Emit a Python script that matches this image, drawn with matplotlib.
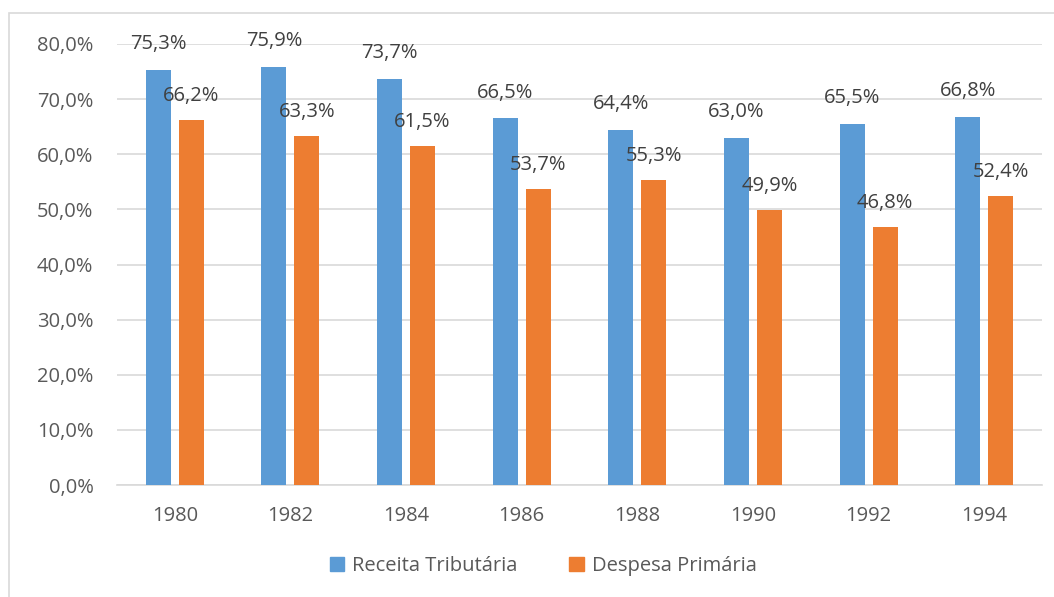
import numpy as np
import matplotlib.pyplot as plt
from matplotlib.patches import Patch, Rectangle

plt.rcParams['font.family'] = ['Open Sans', 'DejaVu Sans']

years = ['1980', '1982', '1984', '1986', '1988', '1990', '1992', '1994']
receita = [75.3, 75.9, 73.7, 66.5, 64.4, 63.0, 65.5, 66.8]
despesa = [66.2, 63.3, 61.5, 53.7, 55.3, 49.9, 46.8, 52.4]

blue = '#5B9BD5'
orange = '#ED7D31'
txt = '#595959'
grid = '#D9D9D9'
fs = 14.5

W, H = 1054, 597
fig = plt.figure(figsize=(W / 100, H / 100), dpi=100)
ax = fig.add_axes([117 / W, 1 - 485 / H, (1042 - 117) / W, (485 - 44) / H])

# chart border (goes off the right/bottom edge)
fig.patches.append(Rectangle((9 / W, -0.1), 1.2, 1 - 13 / H + 0.1, transform=fig.transFigure,
                             fill=False, edgecolor=grid, linewidth=1.2))

x = np.arange(len(years))
bw = 0.216
off = 0.143
ax.bar(x - off, receita, bw, color=blue, zorder=3)
ax.bar(x + off, despesa, bw, color=orange, zorder=3)

def fmt(v):
    return f'{v:.1f}%'.replace('.', ',')

for xi, v in zip(x, receita):
    ax.annotate(fmt(v), (xi - off, v), xytext=(0, 18.5), textcoords='offset points',
                ha='center', va='center', fontsize=fs, color='#404040')
for xi, v in zip(x, despesa):
    ax.annotate(fmt(v), (xi + off, v), xytext=(0, 17.5), textcoords='offset points',
                ha='center', va='center', fontsize=fs, color='#404040')

ax.set_xlim(-0.5, len(years) - 0.5)
ax.set_ylim(0, 80)
ax.set_yticks(np.arange(0, 81, 10))
ax.set_yticklabels([fmt(v) for v in np.arange(0, 81, 10)])
ax.set_xticks(x)
ax.set_xticklabels(years)
ax.tick_params(axis='both', length=0, labelsize=fs, colors=txt)
ax.tick_params(axis='y', pad=17)
ax.tick_params(axis='x', pad=15)
ax.yaxis.grid(True, color=grid, linewidth=1.2, zorder=0)
for s in ['top', 'right', 'left']:
    ax.spines[s].set_visible(False)
ax.spines['bottom'].set_color(grid)
ax.spines['bottom'].set_linewidth(1.2)

handles = [Patch(color=blue, label='Receita Tributária'), Patch(color=orange, label='Despesa Primária')]
fig.legend(handles=handles, loc='center', bbox_to_anchor=(543 / W, 1 - 566 / H), ncol=2,
           frameon=False, fontsize=fs, handlelength=0.7, handleheight=0.7,
           handletextpad=0.4, columnspacing=2.6, labelcolor=txt)

fig.savefig('out.png', dpi=100)
